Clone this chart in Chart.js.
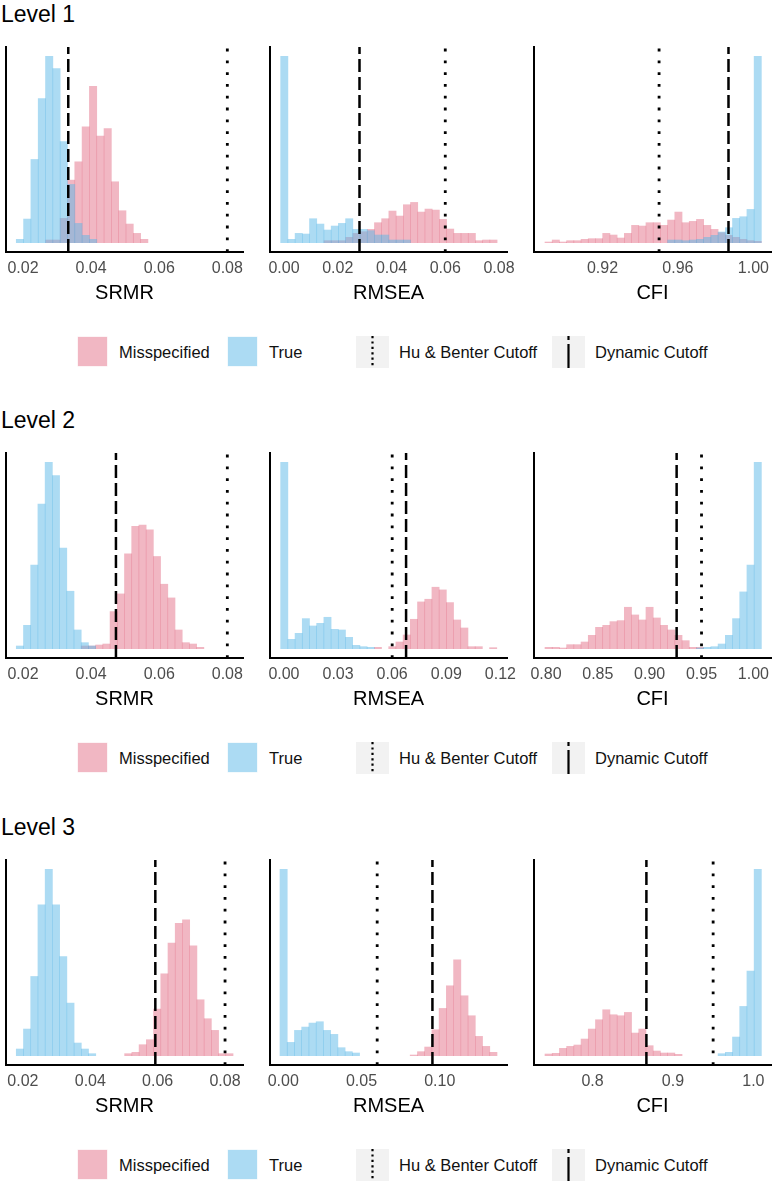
<!DOCTYPE html>
<html>
<head>
<meta charset="utf-8">
<script src="https://cdn.jsdelivr.net/npm/chart.js@4.4.1/dist/chart.umd.min.js"></script>
<style>
  body { margin: 0; background: #fff; font-family: "Liberation Sans", Arial, Helvetica, sans-serif; }
  #page { position: relative; width: 776px; height: 1183px; overflow: hidden; background: #fff; }
  #page canvas { position: absolute; }
  .level { position: absolute; left: 1px; font-size: 23px; line-height: 28px; color: #000; }
  .key { position: absolute; }
  .lab { position: absolute; font-size: 16.5px; line-height: 20px; color: #111; white-space: nowrap; }
</style>
</head>
<body>
<div id="page"></div>
<script>
// Histogram counts (relative heights), one value per bin
// bins: [first bin edge, bin width]
const levels = ['Level 1', 'Level 2', 'Level 3'];
const metrics = ['SRMR', 'RMSEA', 'CFI'];

// Level 1
const srmr1Bin = [0.01804, 0.002147];
const srmr1True = [10, 71, 250, 433, 560, 523, 304, 175, 58, 22, 10, 0, 0, 0, 0, 0, 0, 0];
const srmr1Mis = [0, 0, 0, 0, 8, 8, 73, 188, 243, 348, 470, 320, 343, 183, 96, 56, 28, 10];

const rmsea1Bin = [-0.00122, 0.002683];
const rmsea1True = [560, 10, 28, 26, 72, 56, 38, 50, 58, 72, 40, 40, 36, 23, 23, 8, 8, 8, 0, 0, 0, 0, 0, 0, 0, 0, 0, 0, 0, 0];
const rmsea1Mis = [0, 0, 0, 0, 0, 0, 6, 6, 6, 16, 28, 33, 40, 60, 72, 95, 80, 114, 121, 92, 101, 98, 70, 41, 28, 28, 28, 6, 8, 8];

const cfi1Bin = [0.88951, 0.003824];
const cfi1True = [0, 0, 0, 0, 0, 0, 0, 0, 0, 0, 0, 0, 0, 0, 0, 0, 0, 8, 8, 6, 8, 10, 16, 22, 32, 45, 73, 78, 100, 560];
const cfi1Mis = [2, 8, 2, 6, 6, 10, 12, 12, 28, 23, 14, 28, 52, 50, 60, 60, 52, 68, 92, 60, 64, 70, 52, 40, 30, 22, 16, 10, 6, 4];

// Level 2
const srmr2Bin = [0.01804, 0.002118];
const srmr2True = [8, 70, 250, 433, 558, 518, 301, 172, 56, 18, 8, 0, 0, 0, 0, 0, 0, 0, 0, 0, 0, 0, 0, 0, 0, 0];
const srmr2Mis = [0, 0, 0, 0, 0, 0, 0, 0, 0, 8, 8, 11, 14, 111, 164, 284, 366, 370, 356, 276, 193, 152, 56, 18, 14, 4];

const rmsea2Bin = [-0.00182, 0.003993];
const rmsea2True = [558, 28, 46, 90, 68, 76, 94, 58, 56, 34, 10, 6, 4, 0, 0, 0, 0, 0, 0, 0, 0, 0, 0, 0, 0, 0, 0, 0, 0, 0];
const rmsea2Mis = [0, 0, 0, 0, 0, 0, 0, 0, 0, 0, 0, 0, 0, 4, 0, 6, 20, 41, 88, 140, 148, 184, 176, 138, 86, 62, 6, 6, 0, 3];

const cfi2Bin = [0.79907, 0.006955];
const cfi2True = [0, 0, 0, 0, 0, 0, 0, 0, 0, 0, 0, 0, 0, 0, 0, 0, 0, 0, 0, 0, 0, 2, 4, 6, 14, 40, 90, 170, 250, 558];
const cfi2Mis = [4, 4, 2, 12, 12, 20, 40, 64, 70, 81, 84, 124, 101, 86, 124, 92, 70, 56, 40, 24, 4, 4, 0, 0, 0, 0, 0, 0, 0, 0];

// Level 3
const srmr3Bin = [0.01802, 0.002145];
const srmr3True = [20, 80, 238, 453, 560, 453, 298, 158, 38, 20, 6, 0, 0, 0, 0, 0, 0, 0, 0, 0, 0, 0, 0, 0, 0, 0, 0, 0, 0, 0];
const srmr3Mis = [0, 0, 0, 0, 0, 0, 0, 0, 0, 0, 0, 0, 0, 0, 0, 6, 10, 33, 48, 140, 246, 338, 398, 408, 330, 168, 111, 76, 6, 6];

const rmsea3Bin = [-0.0021, 0.004622];
const rmsea3True = [560, 40, 76, 86, 98, 102, 76, 64, 24, 12, 8, 0, 0, 0, 0, 0, 0, 0, 0, 0, 0, 0, 0, 0, 0, 0, 0, 0, 0, 0];
const rmsea3Mis = [0, 0, 0, 0, 0, 0, 0, 0, 0, 0, 0, 0, 0, 0, 0, 0, 0, 0, 2, 12, 26, 78, 142, 210, 288, 180, 120, 58, 28, 10];

const cfi3Bin = [0.7409, 0.008969];
const cfi3True = [0, 0, 0, 0, 0, 0, 0, 0, 0, 0, 0, 0, 0, 0, 0, 0, 0, 0, 0, 0, 0, 0, 0, 0, 6, 10, 56, 148, 254, 560];
const cfi3Mis = [5, 7, 22, 28, 32, 50, 80, 108, 138, 123, 120, 130, 68, 80, 30, 14, 8, 8, 4, 0, 0, 0, 0, 0, 0, 0, 0, 0, 0, 0];

// cutoffs per level: [SRMR, RMSEA, CFI]
const huBenter = [[0.08, 0.06, 0.95], [0.08, 0.06, 0.95], [0.08, 0.06, 0.95]];
const dynamic = [[0.0333, 0.0281, 0.9868], [0.0473, 0.0677, 0.926], [0.0593, 0.0953, 0.867]];

// tick labels
const srmrTicks = ['0.02', '0.04', '0.06', '0.08'];
const rmsea1Ticks = ['0.00', '0.02', '0.04', '0.06', '0.08'];
const cfi1Ticks = ['0.92', '0.96', '1.00'];
const rmsea2Ticks = ['0.00', '0.03', '0.06', '0.09', '0.12'];
const cfi2Ticks = ['0.80', '0.85', '0.90', '0.95', '1.00'];
const rmsea3Ticks = ['0.00', '0.05', '0.10'];
const cfi3Ticks = ['0.8', '0.9', '1.0'];

// x axis limits
const xLimits = [
  [[0.01502, 0.0846], [-0.00519, 0.08296], [0.88368, 1.00934]],
  [[0.01502, 0.0846], [-0.00773, 0.12364], [0.78846, 1.0170]],
  [[0.01497, 0.08533], [-0.00849, 0.14295], [0.72722, 1.02195]]
];

const legendLabels = ['Misspecified', 'True', 'Hu & Benter Cutoff', 'Dynamic Cutoff'];

// ---------------------------------------------------------------
const FONT = '"Liberation Sans", Arial, Helvetica, sans-serif';
const PINK = 'rgba(228, 112, 136, 0.5)';
const BLUE = 'rgba(90, 184, 232, 0.5)';

const panels = [
  [srmr1Bin, srmr1True, srmr1Mis, srmrTicks], [rmsea1Bin, rmsea1True, rmsea1Mis, rmsea1Ticks], [cfi1Bin, cfi1True, cfi1Mis, cfi1Ticks],
  [srmr2Bin, srmr2True, srmr2Mis, srmrTicks], [rmsea2Bin, rmsea2True, rmsea2Mis, rmsea2Ticks], [cfi2Bin, cfi2True, cfi2Mis, cfi2Ticks],
  [srmr3Bin, srmr3True, srmr3Mis, srmrTicks], [rmsea3Bin, rmsea3True, rmsea3Mis, rmsea3Ticks], [cfi3Bin, cfi3True, cfi3Mis, cfi3Ticks]
];

const colLeft = [6, 270, 534];
const rowTop = [47, 453, 860];
const plotW = 237, plotH = 205, PAD = 20, PADT = 2, AXH = 60;

const page = document.getElementById('page');

function vline(x, lo, hi, width, dash) {
  return {
    type: 'line',
    data: [{ x: x, y: lo }, { x: x, y: hi }],
    borderColor: '#000',
    borderWidth: width,
    borderDash: dash,
    borderCapStyle: 'butt',
    pointRadius: 0,
    order: 0
  };
}

// empty bins are left out (null) so no sliver is painted on the baseline
const asPoints = (centers, counts) => centers.map((x, i) => ({ x: x, y: counts[i] > 0 ? counts[i] : null }));

panels.forEach((p, k) => {
  const lvl = Math.floor(k / 3), col = k % 3;
  const [bin, tru, mis, ticks] = p;
  const centers = tru.map((_, i) => bin[0] + (i + 0.5) * bin[1]);
  const top = Math.max(...tru, ...mis);
  const yMin = -0.05 * top, yMax = 1.05 * top;

  const cv = document.createElement('canvas');
  cv.width = plotW + 2 * PAD;
  cv.height = PADT + plotH + AXH;
  cv.style.left = (colLeft[col] - PAD) + 'px';
  cv.style.top = (rowTop[lvl] - PADT) + 'px';
  page.appendChild(cv);

  new Chart(cv.getContext('2d'), {
    type: 'bar',
    data: {
      datasets: [
        vline(huBenter[lvl][col], yMin, yMax, 2.8, [2.8, 9]),
        vline(dynamic[lvl][col], yMin, yMax, 2.5, [13, 5]),
        {
          label: 'True',
          data: asPoints(centers, tru),
          backgroundColor: BLUE, borderWidth: 0,
          grouped: false, barPercentage: 1, categoryPercentage: 1, order: 1
        },
        {
          label: 'Misspecified',
          data: asPoints(centers, mis),
          backgroundColor: PINK, borderWidth: 0,
          grouped: false, barPercentage: 1, categoryPercentage: 1, order: 2
        }
      ]
    },
    options: {
      responsive: false,
      animation: false,
      events: [],
      layout: { padding: { left: PAD, right: PAD, top: PADT, bottom: 0 } },
      plugins: { legend: { display: false }, tooltip: { enabled: false } },
      scales: {
        x: {
          type: 'linear',
          offset: false,
          min: xLimits[lvl][col][0],
          max: xLimits[lvl][col][1],
          afterBuildTicks: s => { s.ticks = ticks.map(t => ({ value: parseFloat(t) })); },
          afterFit: s => { s.height = AXH; },
          grid: { display: false, drawTicks: false, offset: false },
          border: { display: true, color: '#000', width: 2 },
          ticks: {
            color: '#4d4d4d', font: { size: 16, family: FONT }, padding: 7,
            autoSkip: false, maxRotation: 0,
            callback: (v, i) => ticks[i]
          },
          title: {
            display: true, text: metrics[col], color: '#000',
            font: { size: 20, family: FONT }, padding: { top: 0, bottom: 6.4 }
          }
        },
        y: {
          min: yMin, max: yMax,
          afterFit: s => { s.width = 0; },
          grid: { display: false, drawTicks: false },
          border: { display: true, color: '#000', width: 2 },
          ticks: { display: false }
        }
      }
    }
  });
});

// titles and legends
const keyX = [77, 227, 356, 552];
const labX = [119, 269, 399, 595];
levels.forEach((name, lvl) => {
  const t = document.createElement('div');
  t.className = 'level';
  t.textContent = name;
  t.style.top = (rowTop[lvl] - 33 - 14) + 'px';
  page.appendChild(t);

  const cy = rowTop[lvl] + 304.7;
  const keys = [
    `<svg width="31" height="31"><rect x="0.5" y="0.5" width="30" height="30" fill="${PINK}" stroke="rgba(255,255,255,0.7)"/></svg>`,
    `<svg width="31" height="31"><rect x="0.5" y="0.5" width="30" height="30" fill="${BLUE}" stroke="rgba(255,255,255,0.7)"/></svg>`,
    `<svg width="33" height="32"><rect width="33" height="32" fill="#f2f2f2"/><line x1="16.5" y1="0" x2="16.5" y2="32" stroke="#000" stroke-width="2.2" stroke-dasharray="2.2 3.2"/></svg>`,
    `<svg width="33" height="32"><rect width="33" height="32" fill="#f2f2f2"/><line x1="16.5" y1="0" x2="16.5" y2="32" stroke="#000" stroke-width="2.2" stroke-dasharray="4 4 40"/></svg>`
  ];
  keys.forEach((svg, i) => {
    const d = document.createElement('div');
    d.className = 'key';
    d.innerHTML = svg;
    d.style.left = keyX[i] + 'px';
    d.style.top = (cy - 16) + 'px';
    page.appendChild(d);
    const l = document.createElement('div');
    l.className = 'lab';
    l.textContent = legendLabels[i];
    l.style.left = labX[i] + 'px';
    l.style.top = (cy - 10) + 'px';
    page.appendChild(l);
  });
});
</script>
</body>
</html>
